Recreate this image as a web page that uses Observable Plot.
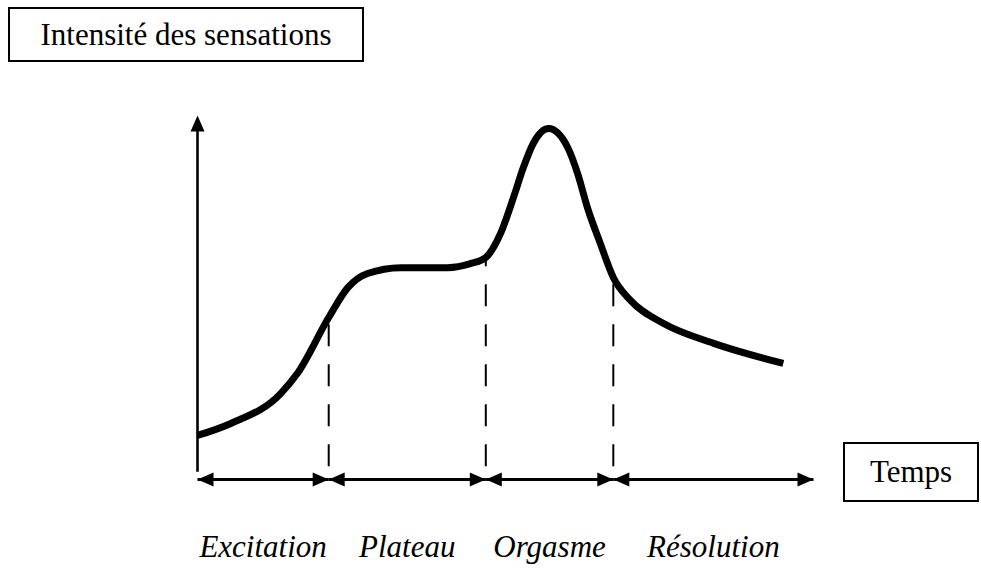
<!DOCTYPE html>
<html>
<head>
<meta charset="utf-8">
<script src="https://cdn.jsdelivr.net/npm/d3@7"></script>
<script src="https://cdn.jsdelivr.net/npm/@observablehq/plot@0.6"></script>
<style>
  html, body { margin: 0; padding: 0; background: #fff; }
  #wrap { position: relative; width: 981px; height: 575px; font-family: "Liberation Serif", "Times New Roman", serif; }
  #wrap svg { position: absolute; left: 0; top: 0; }
  .box { position: absolute; box-sizing: border-box; border: 2px solid #000; background: #fff;
         display: flex; align-items: center; justify-content: center; font-size: 31px; color: #000; }
</style>
</head>
<body>
<div id="wrap">
  <div class="box" id="ylab" style="left:8px; top:7px; width:356px; height:55px;"></div>
  <div class="box" id="xlab" style="left:843px; top:442px; width:136px; height:60px;"></div>
</div>
<script>
// Axis labels
const yLabel = "Intensité des sensations";
const xLabel = "Temps";

// Phases (time units)
const phaseNames = ["Excitation", "Plateau", "Orgasme", "Résolution"];
const phaseStart = [0, 21.3, 46.8, 67.5];
const phaseEnd   = [21.3, 46.8, 67.5, 100];

// Curve of intensity over time
const curveT = [0, 5.4, 13.5, 16.2, 21.3, 24.4, 27.6, 33.0, 40.6, 44.3, 46.8, 49.2, 51.3, 52.9, 54.5, 57.0, 60.1, 61.7, 63.3, 65.4, 67.5, 70.3, 75.6, 83.8, 95.1];
const curveI = [12.1, 15.4, 23.6, 29.1, 44.5, 52.7, 56.6, 58.2, 58.2, 59.3, 61.0, 67.6, 77.5, 85.7, 92.3, 96.4, 91.2, 84.1, 74.7, 64.8, 55.5, 49.2, 42.9, 37.4, 31.9];

// Phase boundaries (dashed) and their heights on the curve
const boundT = [21.3, 46.8, 67.5];
const boundI = [44.5, 61.0, 55.5];

const curve = curveT.map((t, i) => ({t, v: curveI[i]}));
const phases = phaseNames.map((name, i) => ({name, start: phaseStart[i], end: phaseEnd[i], mid: (phaseStart[i] + phaseEnd[i]) / 2}));
const bounds = boundT.map((t, i) => ({t, v: boundI[i]}));

// Filled arrowhead with its tip at the origin, pointing right
const arrowHead = {
  draw(ctx) {
    ctx.moveTo(0, 0);
    ctx.lineTo(-16, -7);
    ctx.lineTo(-16, 7);
    ctx.closePath();
  }
};

document.getElementById("ylab").textContent = yLabel;
document.getElementById("xlab").textContent = xLabel;

const chart = Plot.plot({
  width: 981,
  height: 575,
  x: {domain: [0, 100], range: [197, 813], axis: null},
  y: {domain: [0, 100], range: [479, 115], axis: null},
  style: {fontFamily: "Liberation Serif, Times New Roman, serif", background: "transparent"},
  marks: [
    // y axis line and arrow
    Plot.ruleX([0], {x: 0, y1: 2, y2: 97, stroke: "black", strokeWidth: 2.6}),
    Plot.dot([{t: 0, v: 100}], {x: "t", y: "v", symbol: arrowHead, rotate: -90, r: 5, fill: "black", stroke: "none"}),
    // dashed phase boundaries
    Plot.ruleX(bounds, {x: "t", y1: 3.5, y2: "v", stroke: "black", strokeWidth: 2, strokeDasharray: "22,18"}),
    // time segments with arrowheads
    Plot.link(phases, {x1: "start", x2: "end", y1: 0, y2: 0, stroke: "black", strokeWidth: 2.8}),
    Plot.dot(phases, {x: "start", y: 0, symbol: arrowHead, rotate: 180, r: 5, fill: "black", stroke: "none"}),
    Plot.dot(phases, {x: "end", y: 0, symbol: arrowHead, rotate: 0, r: 5, fill: "black", stroke: "none"}),
    // intensity curve
    Plot.line(curve, {x: "t", y: "v", curve: "monotone-x", stroke: "black", strokeWidth: 7, strokeLinecap: "butt", strokeLinejoin: "round"}),
    // phase names
    Plot.text(phases, {x: "mid", y: 0, text: "name", dy: 77, fontSize: 31, fontStyle: "italic", fill: "black", lineAnchor: "bottom"})
  ]
});
document.getElementById("wrap").prepend(chart);
</script>
</body>
</html>
